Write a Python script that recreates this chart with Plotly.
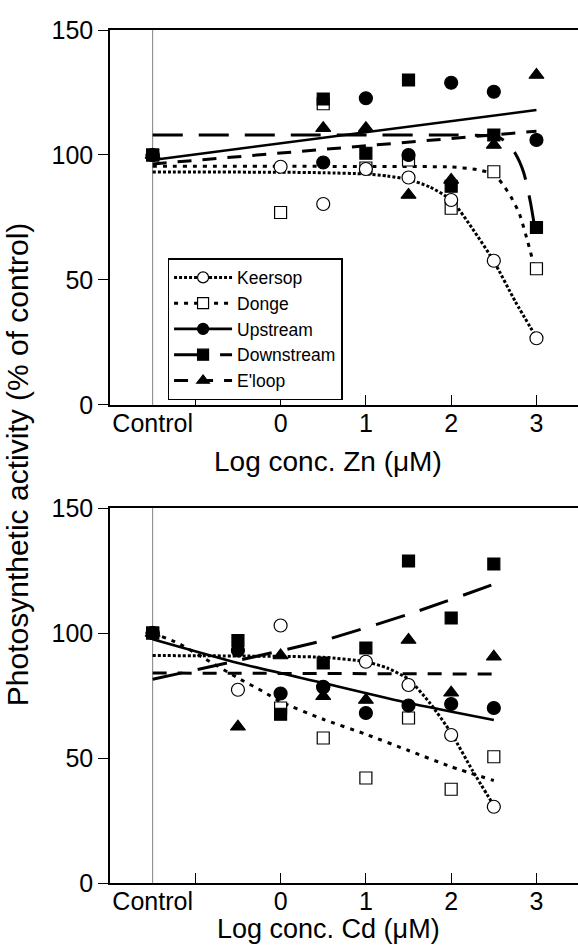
import plotly.graph_objects as go

# ---------------- data ----------------
CTRL = -1.5  # axis position used for the "Control" treatment

series_names = ["Keersop", "Donge", "Upstream", "Downstream", "E'loop"]

# Zn panel: measured points
zn_x_kd = [CTRL, 0, 0.5, 1, 1.5, 2, 2.5, 3]
zn_keersop = [100, 95.3, 80.4, 94.4, 91, 82, 57.7, 26.7]
zn_donge = [100, 77, 120.5, 94.8, 98, 78.7, 93.3, 54.5]
zn_x = [CTRL, 0.5, 1, 1.5, 2, 2.5, 3]
zn_upstream = [100, 97, 122.7, 100, 128.9, 125.3, 106]
zn_downstream = [100, 122.4, 100.7, 130, 87.5, 108, 71]
zn_eloop = [100, 110.7, 110.7, 84, 90, 104, 132]

# Zn panel: fitted curves
zn_fit_keersop_x = [CTRL, 0, 0.5, 1, 1.25, 1.5, 1.75, 2, 2.25, 2.5, 2.75, 3]
zn_fit_keersop_y = [93.2, 93.1, 92.9, 92.4, 91.6, 90.2, 87.2, 82, 70.5, 57.5, 41.5, 27]
zn_fit_donge_x = [CTRL, 0, 1, 2, 2.3, 2.5, 2.6, 2.7, 2.8, 2.9, 2.97]
zn_fit_donge_y = [95.5, 95.5, 95.4, 95.2, 94.2, 92.3, 88.5, 83.3, 76.5, 65, 56]
zn_fit_upstream_x = [CTRL, 3]
zn_fit_upstream_y = [98, 118]
zn_fit_downstream_x = [CTRL, 1, 2, 2.4, 2.55, 2.65, 2.75, 2.85, 2.93, 2.97]
zn_fit_downstream_y = [108, 108, 108, 107.8, 107.2, 105, 100.7, 93, 81, 73]
zn_fit_eloop_x = [CTRL, 3]
zn_fit_eloop_y = [96.4, 109.5]

# Cd panel: measured points
cd_x = [CTRL, -0.5, 0, 0.5, 1, 1.5, 2, 2.5]
cd_keersop = [100, 77.3, 103, 78.3, 88.5, 79.2, 59.2, 30.5]
cd_x_donge = [CTRL, 0, 0.5, 1, 1.5, 2, 2.5]
cd_donge = [100, 70, 58, 42, 66, 37.5, 50.5]
cd_upstream = [100, 93, 75.8, 78.5, 68, 71, 71.6, 70]
cd_downstream = [100, 97, 67.5, 88, 94, 128.8, 106, 127.6]
cd_eloop = [100, 62.5, 91, 74.7, 73.2, 97.2, 76.1, 90.5]

# Cd panel: fitted curves
cd_fit_keersop_x = [CTRL, -0.5, 0.5, 1, 1.25, 1.5, 1.75, 2, 2.25, 2.5]
cd_fit_keersop_y = [91, 90.8, 90.3, 88.5, 86, 81.5, 72, 60, 45, 31]
cd_fit_donge_x = [CTRL, -1.2, -0.9, -0.5, -0.2, 0, 0.5, 1, 1.5, 2, 2.5]
cd_fit_donge_y = [100, 95.9, 90, 82, 76.5, 72.5, 65.5, 59.5, 53, 46.5, 41]
cd_fit_upstream_x = [CTRL, -0.5, 0.5, 1.5, 2.5]
cd_fit_upstream_y = [97.5, 88, 80, 72, 65.2]
cd_fit_downstream_x = [CTRL, -0.5, 0.5, 1.5, 2.5]
cd_fit_downstream_y = [81.5, 89, 97, 107.5, 119.5]
cd_fit_eloop_x = [CTRL, 2.5]
cd_fit_eloop_y = [84, 83.6]

x_tickvals = [CTRL, 0, 1, 2, 3]
x_ticktext = ["Control", "0", "1", "2", "3"]
x_minor_ticks = [-1, 0, 1, 2, 3]
y_ticks = [0, 50, 100, 150]

# ---------------- styles ----------------
FONT = "Liberation Sans, Arial, Helvetica, sans-serif"
styles = {
    "Keersop": dict(dash="3px,2px", width=3, symbol="circle-open"),
    "Donge": dict(dash="4px,6px", width=3, symbol="square-open"),
    "Upstream": dict(dash="solid", width=2.6, symbol="circle"),
    "Downstream": dict(dash="30px,16px", width=3, symbol="square"),
    "E'loop": dict(dash="14px,11px", width=3, symbol="triangle-up"),
}
msize = {"circle-open": 13, "square-open": 12, "circle": 13, "square": 12, "triangle-up": 13}

fig = go.Figure()


def add_line(name, xs, ys, xa, ya):
    st = styles[name]
    fig.add_trace(go.Scatter(
        x=xs, y=ys, mode="lines", xaxis=xa, yaxis=ya, showlegend=False,
        line=dict(color="black", width=st["width"], dash=st["dash"], shape="spline", smoothing=0.6),
        hoverinfo="skip"))


def add_pts(name, xs, ys, xa, ya):
    st = styles[name]
    sym = st["symbol"]
    fig.add_trace(go.Scatter(
        x=xs, y=ys, mode="markers", xaxis=xa, yaxis=ya, showlegend=False, name=name,
        marker=dict(symbol=sym, size=msize[sym], color="black",
                    line=dict(color="black", width=1.2))))


def add_open(name, xs, ys, xa, ya):
    st = styles[name]
    sym = st["symbol"].replace("-open", "")
    fig.add_trace(go.Scatter(
        x=xs, y=ys, mode="markers", xaxis=xa, yaxis=ya, showlegend=False, name=name,
        marker=dict(symbol=sym, size=msize[st["symbol"]], color="white",
                    line=dict(color="black", width=1.2))))


# top panel (Zn)
add_line("Keersop", zn_fit_keersop_x, zn_fit_keersop_y, "x", "y")
add_line("Donge", zn_fit_donge_x, zn_fit_donge_y, "x", "y")
add_line("Upstream", zn_fit_upstream_x, zn_fit_upstream_y, "x", "y")
add_line("Downstream", zn_fit_downstream_x, zn_fit_downstream_y, "x", "y")
add_line("E'loop", zn_fit_eloop_x, zn_fit_eloop_y, "x", "y")
add_open("Donge", zn_x_kd, zn_donge, "x", "y")
add_open("Keersop", zn_x_kd, zn_keersop, "x", "y")
add_pts("Downstream", zn_x, zn_downstream, "x", "y")
add_pts("Upstream", zn_x, zn_upstream, "x", "y")
add_pts("E'loop", zn_x, zn_eloop, "x", "y")

# bottom panel (Cd)
add_line("Keersop", cd_fit_keersop_x, cd_fit_keersop_y, "x2", "y2")
add_line("Donge", cd_fit_donge_x, cd_fit_donge_y, "x2", "y2")
add_line("Upstream", cd_fit_upstream_x, cd_fit_upstream_y, "x2", "y2")
add_line("Downstream", cd_fit_downstream_x, cd_fit_downstream_y, "x2", "y2")
add_line("E'loop", cd_fit_eloop_x, cd_fit_eloop_y, "x2", "y2")
add_open("Donge", cd_x_donge, cd_donge, "x2", "y2")
add_open("Keersop", cd_x, cd_keersop, "x2", "y2")
add_pts("Downstream", cd_x, cd_downstream, "x2", "y2")
add_pts("Upstream", cd_x, cd_upstream, "x2", "y2")
add_pts("E'loop", cd_x, cd_eloop, "x2", "y2")

# legend entries
for name in series_names:
    st = styles[name]
    sym = st["symbol"].replace("-open", "")
    is_open = st["symbol"].endswith("-open")
    fig.add_trace(go.Scatter(
        x=[None], y=[None], mode="lines+markers", name=name, xaxis="x", yaxis="y",
        line=dict(color="black", width=st["width"], dash=st["dash"]),
        marker=dict(symbol=sym, size=11, color="white" if is_open else "black",
                    line=dict(color="black", width=1.2))))

xaxis_common = dict(
    range=[-2, 3.487], showline=True, linecolor="black", linewidth=1.5, mirror=True,
    showgrid=False, zeroline=False, tickmode="array", tickvals=x_tickvals, ticktext=x_ticktext,
    ticks="", tickfont=dict(family=FONT, size=25, color="black"), ticklabelstandoff=-5,
    minor=dict(tickmode="array", tickvals=x_minor_ticks, ticks="inside", ticklen=10,
               tickwidth=1.2, tickcolor="black"),
)
yaxis_common = dict(
    range=[0, 150], showline=True, linecolor="black", linewidth=1.5, showgrid=False,
    zeroline=False, tickmode="array", tickvals=y_ticks, ticks="outside", ticklen=10,
    tickwidth=1.2, tickcolor="black", tickfont=dict(family=FONT, size=25, color="black"),
)

fig.update_layout(
    width=578, height=946,
    margin=dict(l=110, r=0, t=30, b=63),
    paper_bgcolor="white", plot_bgcolor="white",
    xaxis=dict(**xaxis_common, anchor="y", domain=[0, 1]),
    yaxis=dict(**yaxis_common, anchor="x", domain=[0.5604, 1]),
    xaxis2=dict(**xaxis_common, anchor="y2", domain=[0, 1]),
    yaxis2=dict(**yaxis_common, anchor="x2", domain=[0, 0.4396]),
    legend=dict(x=0.123, y=0.7327, xanchor="left", yanchor="top", bgcolor="white",
                bordercolor="black", borderwidth=1.5, font=dict(family=FONT, size=17.5, color="black"),
                itemwidth=58, tracegroupgap=0),
    shapes=[
        dict(type="line", xref="x", yref="y", x0=CTRL, x1=CTRL, y0=0, y1=150,
             line=dict(color="#808080", width=1), layer="below"),
        dict(type="line", xref="x2", yref="y2", x0=CTRL, x1=CTRL, y0=0, y1=150,
             line=dict(color="#808080", width=1), layer="below"),
    ],
    annotations=[
        dict(text="Photosynthetic activity (% of control)", xref="paper", yref="paper",
             x=(17 - 110) / 468, y=0.491, textangle=-90, showarrow=False, xanchor="center",
             yanchor="middle", font=dict(family=FONT, size=30, color="black")),
        dict(text="Log conc. Zn (\u03bcM)", xref="x domain", yref="paper", x=0.466,
             y=(883 - 461) / 853, yanchor="middle", showarrow=False,
             font=dict(family=FONT, size=28, color="black")),
        dict(text="Log conc. Cd (\u03bcM)", xref="x2 domain", yref="paper", x=0.466,
             y=(883 - 929) / 853, yanchor="middle", showarrow=False,
             font=dict(family=FONT, size=27, color="black")),
    ],
)

fig.write_html("out.html", config={"displayModeBar": False},
               post_script="document.body.style.margin='0px';")
